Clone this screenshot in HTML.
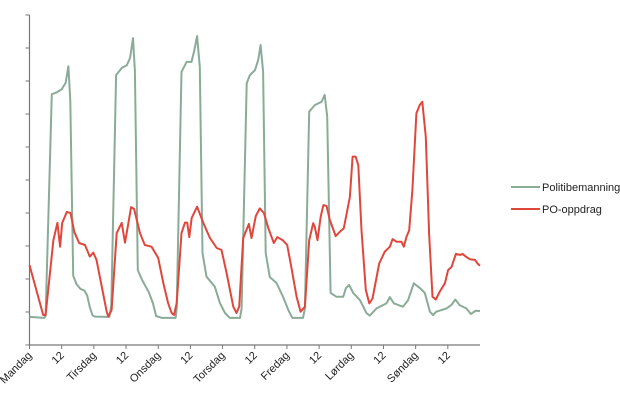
<!DOCTYPE html>
<html><head><meta charset="utf-8"><style>
body{margin:0;background:#fff;}
svg{display:block;font-family:"Liberation Sans",sans-serif;}
</style></head><body>
<svg id="chart" width="620" height="404"></svg>
<script>
const dayLabels=["Mandag","12","Tirsdag","12","Onsdag","12","Torsdag","12","Fredag","12","Lørdag","12","Søndag","12"];
const yTicks=[0,1,2,3,4,5,6,7,8,9,10];
const greenHours=[0,5.5,6,8.3,10,12,13.5,14.5,15.2,16.3,17.5,19,20.5,21.5,22.5,23.5,24.4,29.8,30.5,32.3,34.5,36.3,37.5,38.6,39.3,40.4,42,44.5,46,47.2,49.4,54.5,54.9,56.7,58.6,60.4,61.4,62.5,63.5,64.5,66,69.1,71,72.9,74.7,78.5,79.1,81,82.2,84.1,85.3,86.2,87.1,88.1,89.6,92.1,94.6,96.5,98,102,102.7,104.3,106.4,108.9,110.1,111,112.3,114.5,117,118,119.2,120.7,123.2,125.7,126.9,129.4,133.1,134.4,135.9,139.3,141.2,143.3,145.5,147.4,149.3,150.5,151.7,155.5,157.3,158.8,160.4,162.9,164.6,166.4,168];
const greenVals=[0.85,0.82,0.88,7.6,7.65,7.75,7.95,8.45,7.4,2.1,1.85,1.7,1.65,1.5,1.15,0.9,0.86,0.85,1.2,8.18,8.4,8.48,8.7,9.3,8.3,2.27,1.97,1.6,1.27,0.88,0.82,0.82,1.1,8.28,8.58,8.58,8.9,9.36,8.43,2.79,2.07,1.77,1.27,0.97,0.82,0.82,1.1,7.93,8.18,8.33,8.64,9.09,8.28,2.79,2.06,1.88,1.45,1.06,0.82,0.82,1.1,7.07,7.27,7.37,7.58,6.92,1.58,1.46,1.46,1.72,1.82,1.58,1.36,0.96,0.89,1.11,1.26,1.45,1.26,1.16,1.36,1.87,1.73,1.58,1.01,0.91,1.01,1.11,1.21,1.38,1.21,1.11,0.94,1.04,1.03];
const redHours=[0,5.1,6,8.9,10.4,11.4,12.2,13.9,15.3,16.7,18.5,20.7,22.5,23.8,25,28.8,29.4,30.6,32.5,34.4,35.6,36.9,37.9,39,41.2,43,45.5,48,49.9,51.7,53,53.9,54.9,56.7,58,58.8,59.6,60.5,62.5,64.8,67.3,69.8,71.6,73.5,76,77.2,78.2,79.7,81.8,82.8,84.4,85.9,87.4,89,91.1,92.4,94.4,96.1,97.7,99.6,101.1,102.7,104.3,105.8,106.4,107.4,108.6,109.6,110.8,112,114.2,115.7,117.2,119.5,120.5,121.6,122.6,123.8,125.4,126.7,127.9,130.4,132.5,134.4,135.4,136.9,138.7,139.6,140.6,141.6,142.8,144.3,145.5,146.5,147.8,149,150.3,151.5,153,154.9,156.1,157.4,159,160.5,161.5,162.7,164.2,166.1,167.3,168];
const redVals=[2.42,0.91,0.91,3.18,3.7,2.98,3.7,4.03,4.0,3.43,3.09,3.03,2.68,2.8,2.58,1.01,0.86,1.06,3.39,3.7,3.1,3.7,4.18,4.12,3.39,3.03,2.98,2.64,1.88,1.27,0.97,0.91,1.27,3.39,3.71,3.71,3.27,3.85,4.19,3.7,3.24,2.94,2.88,2.18,1.16,0.97,1.16,3.24,3.67,3.24,3.91,4.14,4.0,3.55,3.09,3.27,3.18,3.03,2.33,1.46,1.01,1.16,3.18,3.69,3.58,3.18,3.89,4.24,4.21,3.79,3.3,3.43,3.54,4.49,5.71,5.71,5.45,3.48,1.67,1.26,1.41,2.47,2.83,2.98,3.21,3.13,3.13,2.98,3.28,3.48,4.7,7.02,7.27,7.37,6.31,3.38,1.46,1.38,1.62,1.87,2.27,2.37,2.76,2.73,2.76,2.68,2.6,2.58,2.45,2.4];

const NS="http://www.w3.org/2000/svg";
const svg=document.getElementById("chart");
const X0=29.5,X1=480,Y0=345,Y1=15;
const xS=h=>X0+h*(X1-X0)/168;
const yS=v=>Y0-v*(Y0-Y1)/10;
function mk(t,a){const e=document.createElementNS(NS,t);for(const k in a)e.setAttribute(k,a[k]);svg.appendChild(e);return e;}

const ya=mk("line",{x1:X0,y1:Y1,x2:X0,y2:Y0,stroke:"#777","stroke-width":1.2});


yTicks.forEach(v=>{const t=mk("line",{x1:X0-4,x2:X0,y1:yS(v),y2:yS(v),stroke:"#777","stroke-width":1});

});
const xa=mk("line",{x1:X0,y1:Y0,x2:X1,y2:Y0,stroke:"#777","stroke-width":1.2});


dayLabels.forEach((lab,i)=>{const x=xS(i*12);
const t=mk("line",{x1:x,x2:x,y1:Y0,y2:Y0+4,stroke:"#777","stroke-width":1});


const tx=mk("text",{x:x+3,y:Y0+11,"font-size":11,fill:"#222","text-anchor":"end",transform:`rotate(-45 ${x+3} ${Y0+11})`});
tx.textContent=lab;

});

function line(hs,vs,col,name){const d=hs.map((h,i)=>(i?"L":"M")+xS(h).toFixed(1)+","+yS(vs[i]).toFixed(1)).join("");
const p=mk("path",{d:d,fill:"none",stroke:col,"stroke-width":2,"stroke-linejoin":"round"});

}
line(greenHours,greenVals,"#8aab98","politibemanning-line");
line(redHours,redVals,"#e0473c","po-oppdrag-line");

[["Politibemanning","#8aab98",187],["PO-oppdrag","#e0473c",209]].forEach(([n,c,y])=>{
const l=mk("line",{x1:511,x2:540,y1:y,y2:y,stroke:c,"stroke-width":2});


const t=mk("text",{x:542,y:y+4,"font-size":11,fill:"#222"});t.textContent=n;

});
</script>
</body></html>
